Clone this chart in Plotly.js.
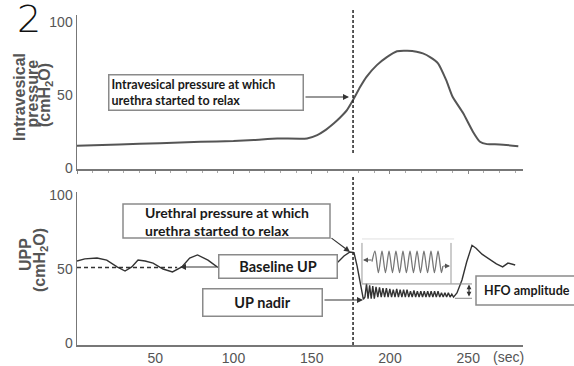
<!DOCTYPE html>
<html>
<head>
<meta charset="utf-8">
<script src="https://cdn.plot.ly/plotly-3.0.1.min.js"></script>
<style>html,body{margin:0;padding:0;background:#fff;}#chart{width:574px;height:366px;}</style>
</head>
<body>
<div id="chart"></div>
<script>
// ---- Data ----
// Intravesical pressure (top panel), cmH2O vs seconds
const ivpTime = [0, 27, 53, 79, 100, 113, 128, 147, 153.5, 158, 164, 168, 172.5, 176.4, 181, 185, 191.6, 198, 204.5, 211, 217, 221, 225.6, 230.7, 236, 240, 246.8, 253, 257.5, 262, 270, 282];
const ivpValue = [15.3, 16.2, 17, 18, 18.5, 19.2, 20.3, 20.3, 22.6, 25.5, 30.6, 34.5, 39.7, 46.6, 55.7, 62.5, 70.5, 76, 80, 80.3, 79.7, 78.5, 76, 71.7, 60, 48.8, 37.5, 24.9, 18, 16.4, 16.2, 15];

// Urethral pressure profile (bottom panel), cmH2O vs seconds
const uppTime = [0, 5, 12.8, 19, 25.6, 30.7, 35, 39, 43.5, 48.6, 55, 61, 67, 72, 77, 83.7, 89.5, 100, 115, 130, 145, 160, 166.8, 170.6, 174.4, 177, 179, 181, 183,
  184, 185, 186, 187, 188, 189, 190, 191.1, 192.2, 193.3, 194.4, 195.5, 196.6, 197.7, 198.8, 199.9, 201, 202.1, 203.2, 204.3, 205.4, 206.5, 207.6, 208.7, 209.8, 210.9,
  212, 213.1, 214.2, 215.3, 216.4, 217.5, 218.6, 219.7, 220.8, 221.9, 223, 224.1, 225.2, 226.3, 227.4, 228.5, 229.6, 230.7, 231.8, 232.9, 234, 235.1, 236.2, 237.3,
  238.4, 239.5, 240.6, 242.8, 246, 249, 252.4, 255, 258.8, 264, 268, 272, 275.4, 280];
const uppValue = [55.4, 56.8, 57.4, 56, 51.4, 48.6, 51.4, 56, 55.4, 54, 50, 48, 51.4, 57.4, 59.5, 56, 51.4, 48, 53, 49, 52, 50, 54.7, 58.8, 61.5, 61, 52, 40, 29.5,
  31, 40, 30, 39, 30, 38.5, 30, 38, 31, 37.5, 31, 37, 31, 37, 31, 36.5, 31, 36, 31, 36.5, 31, 36, 31, 36, 31, 36,
  31, 35, 31, 35.5, 31, 35, 31, 35, 31, 35, 31, 35, 31, 35, 31, 35, 31, 35, 31, 34, 31, 34, 31, 34,
  31, 33, 31, 33.8, 42.6, 54.7, 66, 64, 60, 56, 53.4, 51.4, 54, 52.7];

// Magnified HFO inset wave (schematic), drawn in bottom-panel units
const insetTime = [188.5, 190.4, 192.6, 194.9, 197.1, 199.4, 201.6, 203.8, 206.1, 208.3, 210.5, 212.8, 215.0, 217.3, 219.5, 221.7, 224.0, 226.2, 228.4, 230.7, 232.9, 233.8];
const insetValue = [55, 62, 47.5, 62, 47.5, 62, 47.5, 62, 47.5, 62, 47.5, 62, 47.5, 62, 47.5, 62, 47.5, 62, 47.5, 62, 47.5, 52];

const baselineUP = 51;
const relaxTime = 176.4;
const xTicks = [50, 100, 150, 200, 250];
const yTicks = [0, 50, 100];

// ---- Styles ----
const tickFont = {family: 'Liberation Sans, Arial, sans-serif', size: 14, color: '#555'};
const boxFont = {family: 'Lato, Open Sans, sans-serif', size: 12.5, color: '#1a1a1a', weight: 700};
const boxFont14 = {family: 'Lato, Open Sans, sans-serif', size: 14, color: '#1a1a1a', weight: 700};
const boxFontBig = {family: 'Lato, Open Sans, sans-serif', size: 14.5, color: '#1a1a1a', weight: 700};
const titleFont = {family: 'Liberation Sans, Arial, sans-serif', size: 16, color: '#555', weight: 700};

const traces = [
  {x: ivpTime, y: ivpValue, xaxis: 'x2', yaxis: 'y2', mode: 'lines', line: {color: '#555', width: 2, shape: 'spline', smoothing: 0.5}, hoverinfo: 'skip'},
  {x: uppTime, y: uppValue, xaxis: 'x', yaxis: 'y', mode: 'lines', line: {color: '#333', width: 1.4}, hoverinfo: 'skip'},
  {x: insetTime, y: insetValue, xaxis: 'x', yaxis: 'y', mode: 'lines', line: {color: '#777', width: 1.3, shape: 'spline', smoothing: 0.8}, hoverinfo: 'skip'}
];

function px2paperX(px) { return (px - 77) / 446; }
function px2paperY(py) { return (345 - py) / 330; }

function box(text, cx, cy, w, h, extra) {
  return Object.assign({
    xref: 'paper', yref: 'paper', x: px2paperX(cx), y: px2paperY(cy),
    xanchor: 'center', yanchor: 'middle', text: text, showarrow: false,
    font: boxFont, bgcolor: 'white', bordercolor: '#8a8a8a', borderwidth: 1.5, borderpad: 2,
    width: w - 7, height: h - 7, align: 'left'
  }, extra || {});
}
function arrow(hx, hy, ax, ay, extra) {
  return Object.assign({
    xref: 'paper', yref: 'paper', x: px2paperX(hx), y: px2paperY(hy), ax: ax, ay: ay,
    text: '', showarrow: true, arrowhead: 2, arrowsize: 1, arrowwidth: 1.2, arrowcolor: '#333', standoff: 0
  }, extra || {});
}
function rotTitle(text, cx, cy) {
  return {xref: 'paper', yref: 'paper', x: px2paperX(cx), y: px2paperY(cy), xanchor: 'center', yanchor: 'middle',
    text: '<b>' + text + '</b>', textangle: -90, showarrow: false, font: titleFont};
}
function rectPx(x0, y0, x1, y1) {
  return {type: 'rect', xref: 'paper', yref: 'paper', layer: 'above',
    x0: px2paperX(x0), x1: px2paperX(x1), y0: px2paperY(y1), y1: px2paperY(y0),
    fillcolor: 'white', line: {color: '#8a8a8a', width: 1.5}};
}

const annotations = [
  box('Intravesical pressure at which<br>urethra started to relax', 206, 92.5, 196, 37),
  arrow(349, 97, -45, 0),
  {xref: 'paper', yref: 'paper', x: px2paperX(227), y: px2paperY(221.5), xanchor: 'center', yanchor: 'middle',
   text: 'Urethral pressure at which<br>urethra started to relax', showarrow: false, font: boxFont14, align: 'left'},
  arrow(350, 252, -20, -15),
  box('Baseline UP', 278, 266.5, 120, 25, {align: 'center', font: boxFontBig}),
  arrow(180, 267, 38, 0),
  box('UP nadir', 262.5, 302.5, 121, 29, {align: 'center', font: boxFontBig}),
  arrow(363, 300, -40, 0),
  {xref: 'paper', yref: 'paper', x: px2paperX(482), y: px2paperY(290.5), xanchor: 'left', yanchor: 'middle',
   text: 'HFO amplitude', showarrow: false, font: {family: 'Lato, Open Sans, sans-serif', size: 12.5, color: '#1a1a1a', weight: 700}},
  arrow(363, 260, 10, 0, {arrowcolor: '#555', arrowwidth: 1}),
  arrow(450, 266, -8, 0, {arrowcolor: '#555', arrowwidth: 1}),
  arrow(469, 284.5, 0, 13.5, {arrowside: 'end+start', arrowsize: 0.8, arrowwidth: 1.2}),
  rotTitle('Intravesical', 19, 97),
  rotTitle('pressure', 31.5, 94),
  rotTitle('(cmH<sub>2</sub>O)', 45, 95),
  rotTitle('UPP', 25, 255),
  rotTitle('(cmH<sub>2</sub>O)', 40, 260),
  {xref: 'paper', yref: 'paper', x: px2paperX(508), y: px2paperY(357), xanchor: 'center', yanchor: 'middle',
   text: '(sec)', showarrow: false, font: tickFont},
  {xref: 'paper', yref: 'paper', x: px2paperX(29), y: px2paperY(19), xanchor: 'center', yanchor: 'middle',
   text: '2', showarrow: false, height: 34, font: {family: 'DejaVu Sans, Roboto, sans-serif', size: 38, color: '#111', weight: 200}}
];

const shapes = [
  {type: 'line', xref: 'x', yref: 'paper', x0: relaxTime, x1: relaxTime, y0: px2paperY(153), y1: px2paperY(9), line: {color: '#222', width: 1.5, dash: '3px,2px'}},
  {type: 'line', xref: 'x', yref: 'paper', x0: relaxTime, x1: relaxTime, y0: 0, y1: px2paperY(176), line: {color: '#222', width: 1.5, dash: '3px,2px'}},
  {type: 'line', xref: 'x', yref: 'y', x0: 0, x1: 64, y0: baselineUP, y1: baselineUP, line: {color: '#333', width: 1.3, dash: '4px,3px'}},
  {type: 'line', xref: 'x', yref: 'y', x0: 182.1, x1: 182.1, y0: 40.2, y1: 67.6, line: {color: '#999', width: 1}},
  {type: 'line', xref: 'x', yref: 'y', x0: 239, x1: 239, y0: 40.2, y1: 67.6, line: {color: '#999', width: 1}},
  {type: 'line', xref: 'x', yref: 'y', x0: 182.1, x1: 241, y0: 70.3, y1: 70.3, line: {color: '#e0e0e0', width: 1}},
  {type: 'line', xref: 'x', yref: 'y', x0: 182.1, x1: 252.4, y0: 39.9, y1: 39.9, line: {color: '#888', width: 1}},
  {type: 'line', xref: 'x', yref: 'y', x0: 241.5, x1: 252.4, y0: 30.2, y1: 30.2, line: {color: '#888', width: 1}},
  rectPx(123, 204, 330, 238),
  rectPx(476, 276, 590, 305)
];

const layout = {
  width: 574, height: 366, autosize: false,
  margin: {l: 77, r: 51, t: 15, b: 21, pad: 0},
  paper_bgcolor: 'white', plot_bgcolor: 'white', showlegend: false,
  xaxis: {domain: [0, 1], anchor: 'y', range: [0, 285], showline: true, linecolor: '#777', linewidth: 1.5,
    showgrid: false, zeroline: false, ticks: '', tickvals: xTicks, tickfont: tickFont},
  xaxis2: {domain: [0, 1], anchor: 'y2', range: [0, 285], showline: true, linecolor: '#777', linewidth: 1.5,
    showgrid: false, zeroline: false, showticklabels: false, ticks: 'outside', ticklen: 3, tickwidth: 1, tickcolor: '#888',
    tick0: 0, dtick: 50, minor: {ticks: 'outside', ticklen: 2, tickwidth: 1, tickcolor: '#aaa', dtick: 10, tick0: 0, showgrid: false}},
  yaxis: {domain: [0, 0.4636], anchor: 'x', range: [-1.35, 102], showline: true, linecolor: '#777', linewidth: 1.5,
    showgrid: false, zeroline: false, ticks: '', tickvals: yTicks, tickfont: tickFont},
  yaxis2: {domain: [0.533, 1], anchor: 'x2', range: [-0.7, 104.8], showline: true, linecolor: '#777', linewidth: 1.5,
    showgrid: false, zeroline: false, ticks: '', tickvals: yTicks, tickfont: tickFont},
  annotations: annotations,
  shapes: shapes
};

Plotly.newPlot('chart', traces, layout, {displayModeBar: false, staticPlot: true});
</script>
</body>
</html>
